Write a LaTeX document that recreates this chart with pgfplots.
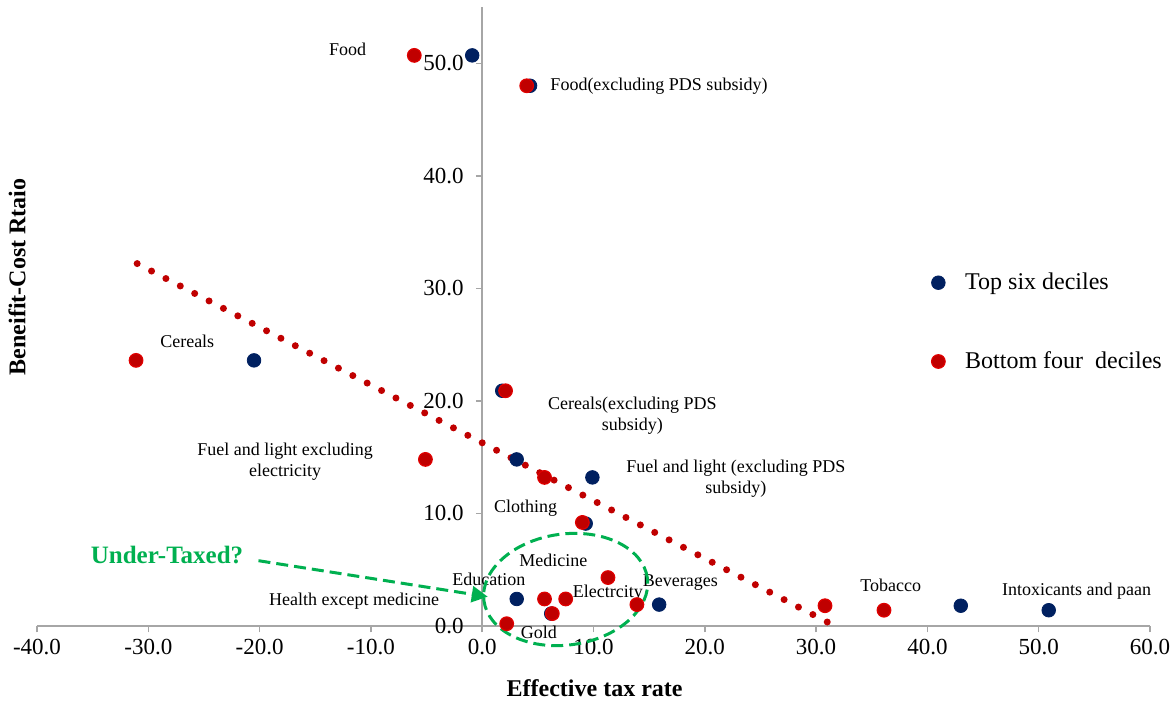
\documentclass[border=0pt]{standalone}
\usepackage{fontspec}
\setmainfont{Liberation Serif}
\usepackage{pgfplots}
\pgfplotsset{compat=1.18}
\usetikzlibrary{arrows.meta}
\definecolor{navy}{HTML}{002060}
\definecolor{dred}{HTML}{C00000}
\definecolor{bred}{HTML}{E00000}
\definecolor{ugreen}{HTML}{00B050}
\definecolor{axgray}{HTML}{A6A6A6}
\begin{document}
\begin{tikzpicture}
\begin{axis}[
  name=ax,
  scale only axis, width=556.5pt, height=309.5pt,
  xmin=-40, xmax=60, ymin=0, ymax=55,
  axis x line*=bottom, axis y line*=center,
  hide obscured x ticks=false, hide obscured y ticks=false,
  xtick={-40,-30,...,60}, ytick={0,10,...,50},
  tick align=outside, major tick length=3.2pt,
  axis line style={axgray, line width=0.75pt},
  tick style={axgray, line width=0.75pt},
  ticklabel style={font=\fontsize{11.5}{13}\selectfont},
  yticklabel style={xshift=-2.5pt},
  /pgf/number format/fixed, /pgf/number format/fixed zerofill,
  /pgf/number format/precision=1, /pgf/number format/assume math mode=true,
  clip=false,
  xlabel={Effective tax rate}, ylabel={Beneifit-Cost Rtaio},
  label style={font=\fontsize{12}{14}\selectfont\bfseries},
  xlabel style={at={(rel axis cs:0.501,-0.100)}, anchor=center},
  ylabel style={at={(rel axis cs:-0.018,0.564)}, anchor=center},
  legend style={draw=none, fill=none, at={(0.798,0.584)}, anchor=north west,
    font=\fontsize{12}{14}\selectfont, row sep=25.5pt, column sep=8pt},
  legend cell align=left,
]
\addplot[forget plot, dred, line width=3.5pt, line cap=round, dash pattern=on 0pt off 8.1pt]
  coordinates {(-31.0,32.2) (31.2,0.25)};

\addplot[only marks, mark=*, mark size=3.4pt, mark options={fill=navy, draw=navy}]
  coordinates {(-0.9,50.7) (4.3,48.0) (-20.5,23.6) (1.8,20.9) (3.1,14.8) (9.9,13.2)
    (9.3,9.1) (3.1,2.4) (6.2,1.1) (15.9,1.9) (43.0,1.8) (50.9,1.4)};
\addlegendentry{Top six deciles}
\addplot[only marks, mark=*, mark size=3.4pt, mark options={fill=dred, draw=bred, line width=0.6pt}]
  coordinates {(-6.1,50.7) (4.0,48.0) (-31.1,23.6) (2.1,20.9) (-5.1,14.8) (5.6,13.2)
    (9.0,9.2) (5.6,2.4) (7.5,2.4) (6.3,1.1) (11.3,4.3) (13.9,1.9) (2.2,0.2)
    (30.8,1.8) (36.1,1.4)};
\addlegendentry{Bottom four\ \ deciles}

\begin{scope}[every node/.style={font=\fontsize{9}{10.5}\selectfont, align=center, inner sep=0pt}]
\node at (axis cs:-12.1,51.2) {Food};
\node[anchor=west] at (axis cs:6.1,48.0) {Food(excluding PDS subsidy)};
\node at (axis cs:-26.5,25.3) {Cereals};
\node at (axis cs:13.5,18.7) {Cereals(excluding PDS\\subsidy)};
\node at (axis cs:-17.7,14.6) {Fuel and light excluding\\electricity};
\node at (axis cs:22.8,13.1) {Fuel and light (excluding PDS\\subsidy)};
\node at (axis cs:3.9,10.5) {Clothing};
\node at (axis cs:6.4,5.8) {Medicine};
\node at (axis cs:0.6,4.1) {Education};
\node at (axis cs:-11.5,2.2) {Health except medicine};
\node at (axis cs:11.3,2.9) {Electrcity};
\node at (axis cs:17.8,3.9) {Beverages};
\node at (axis cs:5.1,-0.6) {Gold};
\node at (axis cs:36.7,3.6) {Tobacco};
\node at (axis cs:53.4,3.1) {Intoxicants and paan};
\end{scope}

\node[anchor=west, ugreen, font=\fontsize{12.5}{14}\selectfont\bfseries, inner sep=0pt] at (axis cs:-35.2,6.3) {Under-Taxed?};
\draw[ugreen, line width=1.5pt, dash pattern=on 6pt off 3pt, -{Triangle[length=8pt,width=8pt]}]
  (axis cs:-20.1,5.8) -- (axis cs:0.5,2.6);
\draw[ugreen, line width=1.5pt, dash pattern=on 6pt off 3pt]
  (axis cs:7.5,3.24) circle [x radius=41.25pt, y radius=27.75pt, rotate=8];
\end{axis}
\pgfresetboundingbox
\path[use as bounding box] ([shift={(-18.5pt,-37.5pt)}]ax.south west) rectangle ([shift={(13pt,3.5pt)}]ax.north east);
\end{tikzpicture}
\end{document}
